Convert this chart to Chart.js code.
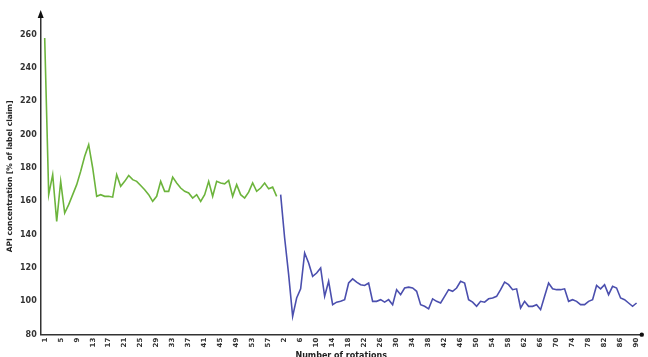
<!DOCTYPE html>
<html>
<head>
<meta charset="utf-8">
<script src="https://cdn.jsdelivr.net/npm/chart.js@4.4.1/dist/chart.umd.min.js"></script>
<style>
  body { margin: 0; background: #fff; }
  #wrap { width: 648px; height: 357px; }
</style>
</head>
<body>
<div id="wrap"><canvas id="apiChart"></canvas></div>
<script>
// rotations, first run (green) and second run (blue)
let greenLabels = [];
for (let i = 1; i <= 59; i++) greenLabels.push(String(i));
let blueLabels = [];
for (let i = 1; i <= 90; i++) blueLabels.push(String(i));

let greenValues = [
    258, 164, 176, 148, 172, 153, 158, 164, 170, 178,
    187, 194, 180, 163, 164, 163, 163, 162.5, 176, 169,
    172, 175.5, 173, 172, 169.5, 167, 164, 160, 163, 172,
    166, 166, 174.5, 171, 168, 166, 165, 162, 164, 160,
    164, 172, 163, 172, 171, 170.5, 172.5, 163, 170, 164,
    162, 165.5, 171, 166, 168, 171, 167.5, 168.5, 163
];
let blueValues = [
    164, 138, 116, 91, 102, 107.5, 129, 123, 115, 117,
    120, 103, 112, 98, 99.5, 100, 101, 111, 113.5, 111.5,
    110, 109.5, 111, 100, 100, 101, 99.5, 101, 98, 107,
    104, 108, 108.5, 108, 106, 98, 97, 95.5, 101.5, 100,
    99, 103, 107, 106, 108, 112, 111, 101, 99.5, 97,
    100, 99.5, 101.5, 102, 103, 107, 111.5, 110, 107, 107.5,
    96, 100, 97, 97, 98, 95, 103, 111, 107.5, 107,
    107, 107.5, 100, 101, 100, 98, 98, 100, 101, 109.5,
    107.5, 110, 104, 109, 108, 102, 101, 99, 97, 99
];
let yTicks = [80, 100, 120, 140, 160, 180, 200, 220, 240, 260];

let allLabels = greenLabels.concat(blueLabels);
let greenPoints = greenValues.map((v, i) => ({ x: i, y: v }));
let bluePoints = blueValues.map((v, i) => ({ x: greenValues.length + i, y: v }));

// arrow head on the y axis and end mark on the x axis
const axisArrows = {
    id: 'axisArrows',
    afterDraw(chart) {
        const ctx = chart.ctx;
        const a = chart.chartArea;
        ctx.save();
        ctx.strokeStyle = '#222';
        ctx.fillStyle = '#111';
        ctx.lineWidth = 1.5;
        ctx.beginPath();
        ctx.moveTo(a.left, a.top);
        ctx.lineTo(a.left, a.top - 2);
        ctx.stroke();
        ctx.beginPath();
        ctx.moveTo(a.left, a.top - 8);
        ctx.lineTo(a.left - 3, a.top);
        ctx.lineTo(a.left + 3, a.top);
        ctx.closePath();
        ctx.fill();
        ctx.beginPath();
        ctx.arc(a.right, a.bottom, 2.2, 0, Math.PI * 2);
        ctx.fill();
        ctx.restore();
    }
};

let ctx = document.getElementById('apiChart').getContext('2d');

let apiChart = new Chart(ctx, {
    type: 'line',
    data: {
        datasets: [{
            label: 'run 1',
            data: greenPoints,
            borderColor: '#6cb43c',
            borderWidth: 1.6,
            pointRadius: 0,
            tension: 0
        }, {
            label: 'run 2',
            data: bluePoints,
            borderColor: '#4b4fae',
            borderWidth: 1.6,
            pointRadius: 0,
            tension: 0
        }]
    },
    options: {
        responsive: true,
        maintainAspectRatio: false,
        animation: false,
        layout: { padding: { top: 18, right: 3, left: 6, bottom: -4 } },
        plugins: {
            legend: { display: false },
            tooltip: { enabled: false }
        },
        scales: {
            x: {
                type: 'linear',
                min: -1,
                max: 149.3,
                grid: { display: false, drawTicks: false },
                border: { color: '#333', width: 1.5 },
                afterBuildTicks: (scale) => {
                    let t = [];
                    for (let i = 0; i < allLabels.length; i += 4) t.push({ value: i });
                    scale.ticks = t;
                },
                ticks: {
                    autoSkip: false,
                    minRotation: 90,
                    maxRotation: 90,
                    padding: 3,
                    color: '#333',
                    font: { family: 'DejaVu Sans', size: 7, weight: 'bold' },
                    callback: (v) => allLabels[v]
                },
                title: {
                    display: true,
                    text: 'Number of rotations',
                    color: '#222',
                    font: { family: 'DejaVu Sans', size: 8, weight: 'bold' },
                    padding: { top: 1, bottom: 0 }
                }
            },
            y: {
                min: 80,
                max: 270,
                grid: { display: false, drawTicks: false },
                border: { color: '#333', width: 1.5 },
                afterBuildTicks: (scale) => {
                    scale.ticks = yTicks.map(v => ({ value: v }));
                },
                ticks: {
                    padding: 4,
                    color: '#333',
                    font: { family: 'DejaVu Sans', size: 8, weight: 'bold' }
                },
                title: {
                    display: true,
                    text: 'API concentration [% of label claim]',
                    color: '#222',
                    font: { family: 'DejaVu Sans', size: 7.5, weight: 'bold' },
                    padding: { top: 0, bottom: 1 }
                }
            }
        }
    },
    plugins: [axisArrows]
});
</script>
</body>
</html>
